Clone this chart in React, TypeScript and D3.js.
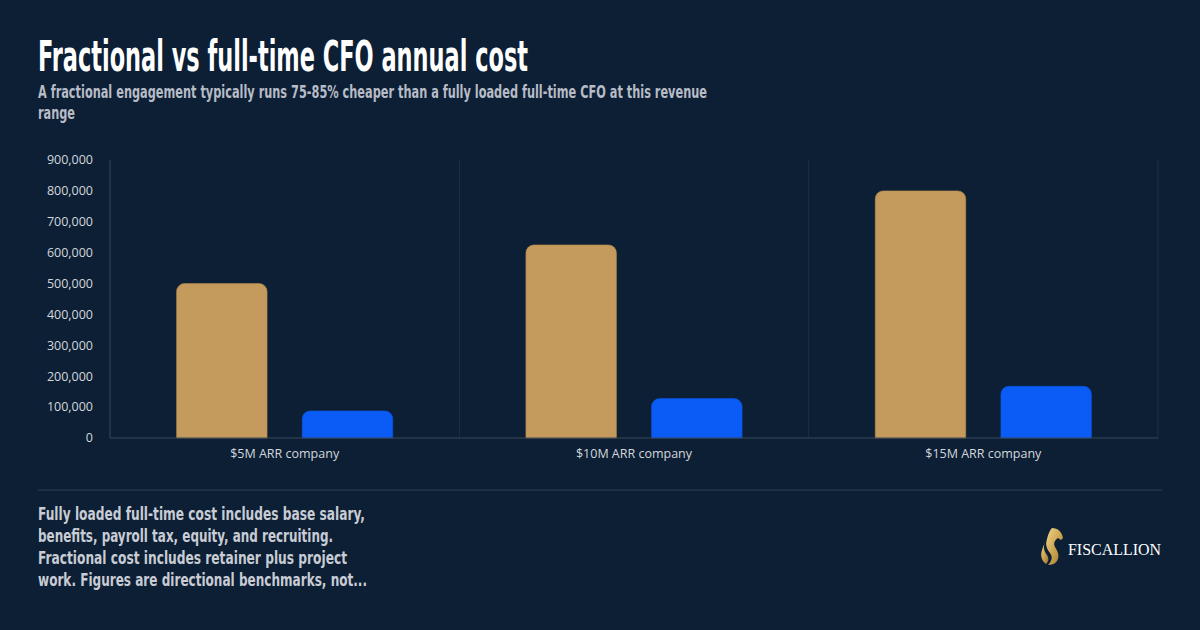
import React from "react";
import * as d3 from "d3";

const categories = ["$5M ARR company", "$10M ARR company", "$15M ARR company"];
const seriesNames = ["Full-time CFO", "Fractional CFO"];
const fullTimeCost = [500000, 625000, 800000];
const fractionalCost = [87500, 127500, 167500];
const yTicks = [0, 100000, 200000, 300000, 400000, 500000, 600000, 700000, 800000, 900000];

const titleText = "Fractional vs full-time CFO annual cost";
const subtitleLines = [
  "A fractional engagement typically runs 75-85% cheaper than a fully loaded full-time CFO at this revenue",
  "range",
];
const footerLines = [
  "Fully loaded full-time cost includes base salary,",
  "benefits, payroll tax, equity, and recruiting.",
  "Fractional cost includes retainer plus project",
  "work. Figures are directional benchmarks, not...",
];

const W = 1200;
const H = 630;
const BG = "#0c1f34";
const GOLD = "#c49b5c";
const BLUE = "#0b5cf6";
const COND = "'Liberation Sans Narrow', 'DejaVu Sans Condensed', 'Roboto Condensed', sans-serif";
const SANS = "'Open Sans', 'Noto Sans', sans-serif";

function topRoundedRect(x: number, y: number, w: number, h: number, r: number) {
  const rr = Math.min(r, w / 2, h);
  const p = d3.path();
  p.moveTo(x, y + h);
  p.lineTo(x, y + rr);
  p.arcTo(x, y, x + rr, y, rr);
  p.lineTo(x + w - rr, y);
  p.arcTo(x + w, y, x + w, y + rr, rr);
  p.lineTo(x + w, y + h);
  p.closePath();
  return p.toString();
}

export default function App() {
  const left = 110, right = 1158, top = 160, bottom = 438;
  const y = d3.scaleLinear().domain([0, 900000]).range([bottom, top]);
  const x0 = d3.scaleBand<string>().domain(categories).range([left, right]).padding(0);
  const x1 = d3
    .scaleBand<string>()
    .domain(seriesNames)
    .range([0, x0.bandwidth()])
    .paddingInner(0.28)
    .paddingOuter(0.53);
  const values = [fullTimeCost, fractionalCost];
  const colors = [GOLD, BLUE];
  const fmt = d3.format(",");

  const subWidths = [669, 37];
  const footerWidths = [327, 295, 309, 329];

  return (
    <svg width={W} height={H} style={{ position: "absolute", left: 0, top: 0, display: "block" }}>
      <defs>
        <linearGradient id="logoGrad" x1="0" y1="0" x2="1" y2="1">
          <stop offset="0%" stopColor="#f0d48a" />
          <stop offset="55%" stopColor="#c9a24e" />
          <stop offset="100%" stopColor="#9a7430" />
        </linearGradient>
      </defs>
      <rect x={0} y={0} width={W} height={H} fill={BG} />

      <text x={38} y={71} fill="#ffffff" fontFamily={COND} fontWeight="bold" fontSize={42}
        textLength={490} lengthAdjust="spacingAndGlyphs">{titleText}</text>
      {subtitleLines.map((t, i) => (
        <text key={i} x={38} y={98 + i * 21} fill="#b7bcc7" fontFamily={COND} fontWeight="bold" fontSize={18}
          textLength={subWidths[i]} lengthAdjust="spacingAndGlyphs">{t}</text>
      ))}

      {/* vertical separators */}
      {categories.map((c) => (
        <line key={c} x1={(x0(c) as number) + x0.bandwidth()} x2={(x0(c) as number) + x0.bandwidth()}
          y1={top} y2={bottom} stroke="#1d3045" strokeWidth={1} />
      ))}

      {/* y axis */}
      <line x1={left} x2={left} y1={top} y2={bottom} stroke="#3a4859" strokeWidth={1} />
      {yTicks.map((t) => (
        <text key={t} x={93} y={y(t)} dy="0.35em" textAnchor="end" fill="#d3d7dd" fontFamily={SANS} fontSize={12.5}>
          {fmt(t)}
        </text>
      ))}

      {/* bars */}
      {categories.map((c, ci) =>
        seriesNames.map((s, si) => {
          const v = values[si][ci];
          const bx = (x0(c) as number) + (x1(s) as number);
          const by = y(v);
          return (
            <path key={c + s} d={topRoundedRect(bx, by, x1.bandwidth(), bottom - by, 8)} fill={colors[si]}
              stroke={si === 0 ? "#b48a4c" : "#0a55e4"} strokeWidth={0.6} />
          );
        })
      )}

      {/* x axis */}
      <line x1={left} x2={right} y1={bottom} y2={bottom} stroke="#3a4859" strokeWidth={1} />
      {categories.map((c) => (
        <text key={c} x={(x0(c) as number) + x0.bandwidth() / 2} y={458} textAnchor="middle" fill="#d3d7dd"
          fontFamily={SANS} fontSize={12.5}>{c}</text>
      ))}

      {/* footer */}
      <line x1={38} x2={1162} y1={490} y2={490} stroke="#22364a" strokeWidth={1.5} />
      {footerLines.map((t, i) => (
        <text key={i} x={38} y={520 + i * 22} fill="#c9ccd5" fontFamily={COND} fontWeight="bold" fontSize={18}
          textLength={footerWidths[i]} lengthAdjust="spacingAndGlyphs">{t}</text>
      ))}

      {/* logo */}
      <g transform="translate(1040,528)">
        <path d="M12 0 C18 0 22 4 23 10 L21 12 L18 10 C15 12 13 15 15 19 C18 24 20 28 17 33 C15 36 11 37 8 37 C12 33 13 29 10 25 C7 21 5 17 7 11 C8 6 10 2 12 0 Z"
          fill="url(#logoGrad)" />
        <path d="M5 14 C3 19 4 23 7 27 C9 30 9 33 6 36 C2 33 0 28 2 22 C3 19 4 16 5 14 Z" fill="url(#logoGrad)" />
      </g>
      <text x={1068} y={555} fill="#ffffff" fontFamily="'Liberation Serif', 'DejaVu Serif', serif" fontSize={17}
        textLength={93} lengthAdjust="spacingAndGlyphs">FISCALLION</text>
    </svg>
  );
}
